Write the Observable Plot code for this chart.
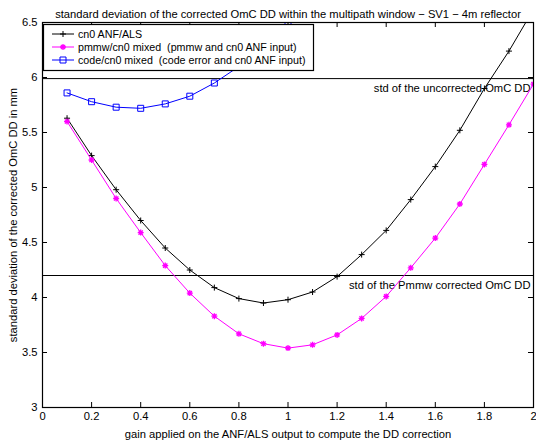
<!DOCTYPE html>
<html><head><meta charset="utf-8">
<script src="https://cdn.jsdelivr.net/npm/d3@7"></script>
<script src="https://cdn.jsdelivr.net/npm/@observablehq/plot@0.6"></script>
<style>
body{margin:0;background:#fff;font-family:"Liberation Sans",Arial,Helvetica,sans-serif;}
#wrap{position:relative;width:536px;height:441px;}
#legend{position:absolute;left:0;top:0;}
</style></head><body><div id="wrap"></div>
<script>
const titleText = "standard deviation of the corrected OmC DD within the multipath window \u2212 SV1 \u2212 4m reflector";
const xLabel = "gain applied on the ANF/ALS output to compute the DD correction";
const yLabel = "standard deviation of the corrected OmC DD in mm";

const gains = [0.1,0.2,0.3,0.4,0.5,0.6,0.7,0.8,0.9,1.0,1.1,1.2,1.3,1.4,1.5,1.6,1.7,1.8,1.9,2.0];
const cn0Als = [5.63,5.29,4.98,4.70,4.45,4.25,4.09,3.99,3.95,3.98,4.05,4.19,4.39,4.61,4.89,5.19,5.52,5.90,6.24,6.62];
const pmmwMixed = [5.60,5.25,4.90,4.59,4.29,4.04,3.83,3.67,3.58,3.54,3.57,3.66,3.81,4.01,4.27,4.54,4.85,5.21,5.57,5.94];
const codeGains = [0.1,0.2,0.3,0.4,0.5,0.6,0.7,0.8,0.9,1.0];
const codeMixed = [5.86,5.78,5.73,5.72,5.76,5.83,5.95,6.10,6.28,6.48];

const seriesNames = ["cn0 ANF/ALS","pmmw/cn0 mixed  (pmmw and cn0 ANF input)","code/cn0 mixed  (code error and cn0 ANF input)"];
const seriesColors = ["#000000","#ff00ff","#0000ff"];
const seriesSymbols = ["plus","star","square"];

const refLevels = [5.99, 4.2];
const refLabels = ["std of the uncorrected OmC DD","std of the Pmmw corrected OmC DD"];

const xTicks = [0,0.2,0.4,0.6,0.8,1,1.2,1.4,1.6,1.8,2];
const yTicks = [3,3.5,4,4.5,5,5.5,6,6.5];

// MATLAB-like marker shapes (radius derived from symbol area)
const symbolShapes = {
  plus: {draw(c,s){const r=Math.sqrt(s/Math.PI);c.moveTo(-r,0);c.lineTo(r,0);c.moveTo(0,-r);c.lineTo(0,r);}},
  star: {draw(c,s){const r=Math.sqrt(s/Math.PI),q=r*0.72;c.moveTo(-r,0);c.lineTo(r,0);c.moveTo(0,-r);c.lineTo(0,r);c.moveTo(-q,-q);c.lineTo(q,q);c.moveTo(-q,q);c.lineTo(q,-q);}},
  square: {draw(c,s){const r=Math.sqrt(s/Math.PI);c.moveTo(-r,-r);c.lineTo(r,-r);c.lineTo(r,r);c.lineTo(-r,r);c.closePath();}}
};

const series = [
  gains.map((g,i)=>({x:g,y:cn0Als[i]})),
  gains.map((g,i)=>({x:g,y:pmmwMixed[i]})),
  codeGains.map((g,i)=>({x:g,y:codeMixed[i]}))
];
const refs = refLevels.map((v,i)=>({v, label:refLabels[i]}));

const W=536,H=441,mL=42,mR=3,mT=22,mB=34;
const frameH = H-mT-mB, frameW = W-mL-mR;
const font = "'Liberation Sans', Arial, Helvetica, sans-serif";
const markR = 3;

const marks = [
  Plot.ruleY(refs, {y:"v", stroke:"#000", strokeWidth:1}),
  Plot.text(refs, {x:()=>2, y:"v", text:"label", textAnchor:"end", dx:-3, dy:10, fontSize:11.2, fill:"#000"})
];
series.forEach((s,i)=>{
  marks.push(Plot.line(s, {x:"x", y:"y", stroke:seriesColors[i], strokeWidth:1, clip:true}));
  marks.push(Plot.dot(s, {x:"x", y:"y", symbol:symbolShapes[seriesSymbols[i]], stroke:seriesColors[i], fill:"none", r:markR, strokeWidth:i===1?1.3:1, clip:true}));
});
marks.push(
  Plot.ruleX(xTicks, {x:d=>d, insetTop:frameH-5, stroke:"#000"}),
  Plot.ruleX(xTicks, {x:d=>d, insetBottom:frameH-5, stroke:"#000"}),
  Plot.ruleY(yTicks, {y:d=>d, insetRight:frameW-5, stroke:"#000"}),
  Plot.ruleY(yTicks, {y:d=>d, insetLeft:frameW-5, stroke:"#000"}),
  Plot.frame({stroke:"#000", strokeWidth:1.2}),
  Plot.axisX({ticks:xTicks, tickSize:0, tickPadding:5, tickFormat:d=>String(d), label:xLabel, labelAnchor:"center", labelArrow:"none", labelOffset:30, fontSize:11.2}),
  Plot.axisY({ticks:yTicks, tickSize:0, tickPadding:5, tickFormat:d=>String(d), label:yLabel, labelAnchor:"center", labelArrow:"none", labelOffset:33, fontSize:11.2}),
  Plot.text([titleText], {frameAnchor:"top", dy:-12, text:d=>d, fontSize:11.2, fill:"#000"})
);

const chart = Plot.plot({
  width:W, height:H, marginLeft:mL, marginRight:mR, marginTop:mT, marginBottom:mB,
  style:{fontFamily:font, fontSize:"11px", background:"#fff", color:"#000"},
  x:{domain:[0,2]}, y:{domain:[3,6.5]},
  marks
});
const wrap = document.getElementById("wrap");
wrap.appendChild(chart);

// legend overlay
const lg = d3.select(wrap).append("svg").attr("id","legend").attr("width",W).attr("height",H)
  .style("pointer-events","none");
const bx=43, by=24, bw=270, bh=46;
lg.append("rect").attr("x",bx+0.5).attr("y",by+0.5).attr("width",bw).attr("height",bh)
  .attr("fill","#fff").attr("stroke","#000").attr("stroke-width",1.2);
seriesNames.forEach((name,i)=>{
  const cy = by + 10 + i*13;
  const g = lg.append("g");
  g.append("line").attr("x1",bx+9).attr("x2",bx+31).attr("y1",cy).attr("y2",cy)
    .attr("stroke",seriesColors[i]).attr("stroke-width",1);
  g.append("path").attr("d", d3.symbol(symbolShapes[seriesSymbols[i]], Math.PI*markR*markR)())
    .attr("transform",`translate(${bx+20},${cy})`).attr("fill","none").attr("stroke",seriesColors[i])
    .attr("stroke-width", i===1?1.3:1);
  g.append("text").attr("x",bx+35).attr("y",cy).attr("dy","0.35em")
    .style("white-space","pre").attr("font-family",font).attr("font-size",10.7).attr("fill","#000").text(name);
});
</script>
</body></html>
